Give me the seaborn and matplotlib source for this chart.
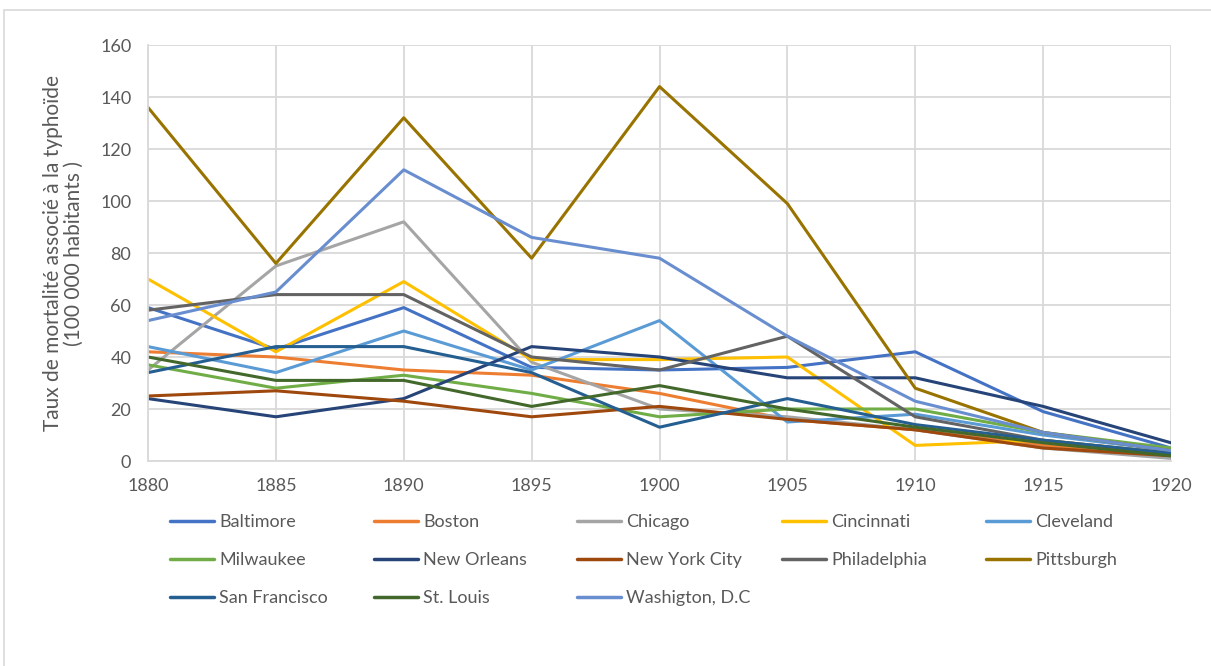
import matplotlib
matplotlib.use("Agg")
import matplotlib.pyplot as plt
import seaborn as sns
import pandas as pd
from matplotlib.patches import Rectangle
from matplotlib.lines import Line2D

years = [1880, 1885, 1890, 1895, 1900, 1905, 1910, 1915, 1920]

baltimore = [59, 43, 59, 36, 35, 36, 42, 19, 5]
boston = [42, 40, 35, 33, 26, 16, 12, 6, 2]
chicago = [35, 75, 92, 38, 20, 17, 12, 5, 1]
cincinnati = [70, 42, 69, 39, 39, 40, 6, 8, 3]
cleveland = [44, 34, 50, 35, 54, 15, 18, 10, 4]
milwaukee = [37, 28, 33, 26, 17, 20, 20, 11, 5]
new_orleans = [24, 17, 24, 44, 40, 32, 32, 21, 7]
new_york = [25, 27, 23, 17, 21, 16, 12, 5, 2]
philadelphia = [58, 64, 64, 40, 35, 48, 17, 8, 3]
pittsburgh = [136, 76, 132, 78, 144, 99, 28, 11, 4]
san_francisco = [34, 44, 44, 34, 13, 24, 14, 8, 3]
st_louis = [40, 31, 31, 21, 29, 20, 13, 7, 2]
washington = [54, 65, 112, 86, 78, 48, 23, 11, 4]

cities = ["Baltimore", "Boston", "Chicago", "Cincinnati", "Cleveland",
          "Milwaukee", "New Orleans", "New York City", "Philadelphia", "Pittsburgh",
          "San Francisco", "St. Louis", "Washigton, D.C"]
series = [baltimore, boston, chicago, cincinnati, cleveland, milwaukee, new_orleans,
          new_york, philadelphia, pittsburgh, san_francisco, st_louis, washington]
colors = ["#4472C4", "#ED7D31", "#A5A5A5", "#FFC000", "#5B9BD5", "#70AD47", "#264478",
          "#9E480E", "#636363", "#997300", "#255E91", "#43682B", "#698ED0"]

rows = []
for c, vals in zip(cities, series):
    for y, v in zip(years, vals):
        rows.append({"Année": y, "Valeur": v, "Ville": c})
df = pd.DataFrame(rows)

sns.set_theme(style="white")
plt.rcParams['font.family'] = ['Lato', 'DejaVu Sans']

fig = plt.figure(figsize=(12.11, 6.66), dpi=100)
ax = fig.add_axes([148/1211, 1-461/666, (1171-148)/1211, (461-45)/666])

sns.lineplot(data=df, x="Année", y="Valeur", hue="Ville", hue_order=cities,
             palette=colors, linewidth=2.2, ax=ax, legend=False)

ax.set_xlim(1880, 1920)
ax.set_ylim(0, 160)
ax.set_xticks(years)
ax.set_yticks(range(0, 161, 20))
ax.grid(True, color="#D9D9D9", linewidth=1.3)
ax.set_axisbelow(True)
for s in ["top", "right"]:
    ax.spines[s].set_visible(False)
for s in ["left", "bottom"]:
    ax.spines[s].set_color("#D9D9D9")
    ax.spines[s].set_linewidth(1.3)
ax.tick_params(axis="both", colors="#595959", labelsize=13, length=0)
ax.tick_params(axis="x", pad=12)
ax.tick_params(axis="y", pad=12)
ax.set_xlabel("")
ax.set_ylabel("Taux de mortalité associé à la typhoïde\n(100 000 habitants )",
              fontsize=15, color="#595959", labelpad=12, linespacing=1.05)

# Legend: 5 columns laid out row by row, as in the reference
col_x = [170, 374, 577, 782, 986]
for ci, x0 in enumerate(col_x):
    idx = list(range(ci, len(cities), 5))
    hs = [Line2D([0], [0], color=colors[i], linewidth=2.5) for i in idx]
    fig.legend(hs, [cities[i] for i in idx], loc="upper left",
               bbox_to_anchor=(x0/1211, 1-514/666), borderpad=0, borderaxespad=0,
               frameon=False, fontsize=13, handlelength=2.45, handletextpad=0.28,
               labelspacing=1.22, labelcolor="#595959")

fig.patches.append(Rectangle((4/1211, -0.1), 1.2, 1-10/666+0.1, transform=fig.transFigure,
                             fill=False, edgecolor="#D9D9D9", linewidth=1.2))

fig.savefig("out.png", dpi=100)
